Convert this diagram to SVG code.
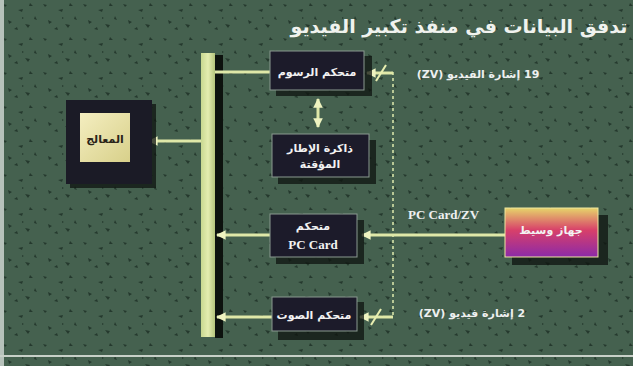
<svg xmlns="http://www.w3.org/2000/svg" width="633" height="366" viewBox="0 0 633 366">
<defs>
<style>
.box{fill:#1c1b2a;stroke:#8a9a90;stroke-width:1}
.shadow{fill:#0d130f;opacity:0.75}
.lbl{font-family:"DejaVu Sans",sans-serif;font-weight:bold;fill:#f2f2f2;text-anchor:middle}
.side{font-family:"DejaVu Sans","Liberation Serif",serif;font-weight:bold;fill:#eef0f0;font-size:11px;text-anchor:middle}
.wire{stroke:#dfe8a8;stroke-width:3;fill:none}
.dash{stroke:#b8c896;stroke-width:2;stroke-dasharray:3 3;fill:none}
.slash{stroke:#e8eeb0;stroke-width:2}
</style>
<marker id="ah" viewBox="0 0 10 10" refX="9" refY="5" markerWidth="3.2" markerHeight="3.2" orient="auto-start-reverse">
<path d="M0,0 L10,5 L0,10 z" fill="#eef3c0"/>
</marker>
<linearGradient id="dev" x1="0" y1="0" x2="0" y2="1">
<stop offset="0" stop-color="#e6d46a"/>
<stop offset="0.45" stop-color="#d8406a"/>
<stop offset="1" stop-color="#8c2aa8"/>
</linearGradient>
<linearGradient id="bus" x1="0" y1="0" x2="1" y2="0">
<stop offset="0" stop-color="#c8d890"/>
<stop offset="0.5" stop-color="#e4edb0"/>
<stop offset="1" stop-color="#b4c47c"/>
</linearGradient>
<linearGradient id="cpu" x1="0" y1="0" x2="1" y2="1">
<stop offset="0" stop-color="#f4eec0"/>
<stop offset="1" stop-color="#d8d08a"/>
</linearGradient>
<pattern id="spk" width="40" height="34" patternUnits="userSpaceOnUse">
<path d="M3,4 l4,1 -2,2z M18,10 l5,-1 -1,3z M30,3 l3,3 -4,0z M8,20 l4,2 -3,2z M25,24 l5,1 -2,3z M35,16 l2,4 -3,-1z M14,29 l3,-2 1,3z M22,17 l2,1 -2,1z" fill="#1d3025" opacity="0.8"/>
</pattern>
</defs>
<rect x="0" y="0" width="633" height="366" fill="#45614f"/>
<rect x="0" y="0" width="633" height="366" fill="url(#spk)"/>
<rect x="0" y="0" width="4" height="366" fill="#b7c2bb"/>
<rect x="0" y="355" width="633" height="2" fill="#c8d0c8"/>

<text x="459" y="33" font-family="DejaVu Sans,sans-serif" font-weight="bold" font-size="19" fill="#f0f2ee" text-anchor="middle" direction="rtl">تدفق البيانات في منفذ تكبير الفيديو</text>

<g id="bus-bar">
<rect x="215" y="55" width="8" height="283" fill="#0d120e"/>
<rect x="201" y="53" width="14" height="284" fill="url(#bus)"/>
</g>

<g id="connectors">
<line class="wire" x1="201" y1="141" x2="149" y2="141" marker-end="url(#ah)"/>
<line class="wire" x1="215" y1="72" x2="270" y2="72"/>
<line class="wire" x1="318" y1="99" x2="318" y2="127" marker-start="url(#ah)" marker-end="url(#ah)"/>
<line class="wire" x1="270" y1="235" x2="217" y2="235" marker-end="url(#ah)"/>
<line class="wire" x1="272" y1="317" x2="217" y2="317" marker-end="url(#ah)"/>
<line class="dash" x1="393" y1="72" x2="393" y2="318"/>
<line class="wire" x1="393" y1="73" x2="367" y2="73" marker-end="url(#ah)"/>
<line class="slash" x1="376" y1="81" x2="386" y2="65"/>
<line class="wire" x1="393" y1="317" x2="360" y2="317" marker-end="url(#ah)"/>
<line class="slash" x1="371" y1="325" x2="381" y2="309"/>
<line class="wire" x1="505" y1="235" x2="362" y2="235" marker-end="url(#ah)" stroke="#e2ea98"/>
</g>

<g id="cpu-node">
<rect x="70" y="104" width="86" height="84" class="shadow"/>
<rect x="66" y="100" width="86" height="84" fill="#1b1b26"/>
<rect x="80" y="113" width="50" height="49" fill="url(#cpu)"/>
<text x="105" y="143" font-family="DejaVu Sans,sans-serif" font-weight="bold" font-size="11" fill="#2a2418" text-anchor="middle">المعالج</text>
</g>

<g id="graphics-controller">
<rect x="276" y="56" width="96" height="40" class="shadow"/>
<rect x="270" y="51" width="94" height="39" class="box"/>
<text class="lbl" x="317" y="76" font-size="11">متحكم الرسوم</text>
</g>

<g id="frame-buffer">
<rect x="278" y="140" width="98" height="44" class="shadow"/>
<rect x="272" y="134" width="97" height="43" class="box"/>
<text class="lbl" x="320" y="152" font-size="11">ذاكرة الإطار</text>
<text class="lbl" x="320" y="168" font-size="11">المؤقتة</text>
</g>

<g id="pccard-controller">
<rect x="276" y="220" width="88" height="44" class="shadow"/>
<rect x="270" y="214" width="87" height="43" class="box"/>
<text class="lbl" x="313" y="230" font-size="11">متحكم</text>
<text class="lbl" x="313" y="249" style="font-family:'Liberation Serif',serif;font-size:13px">PC Card</text>
</g>

<g id="audio-controller">
<rect x="278" y="302" width="86" height="38" class="shadow"/>
<rect x="272" y="297" width="85" height="34" class="box"/>
<text class="lbl" x="314" y="319" font-size="11">متحكم الصوت</text>
</g>

<g id="device-node">
<rect x="512" y="215" width="96" height="50" class="shadow"/>
<rect x="505" y="208" width="93" height="49" fill="url(#dev)" stroke="#f0e8a0" stroke-width="1"/>
<text class="lbl" x="551" y="234" font-size="11">جهاز وسيط</text>
</g>

<g id="labels">
<text class="side" x="478" y="78" direction="rtl">19 إشارة الفيديو (ZV)</text>
<text x="408" y="219" font-family="Liberation Serif,serif" font-weight="bold" font-size="13" fill="#eef0f0">PC Card/ZV</text>
<text class="side" x="472" y="317" direction="rtl">2 إشارة فيديو (ZV)</text>
</g>
</svg>
